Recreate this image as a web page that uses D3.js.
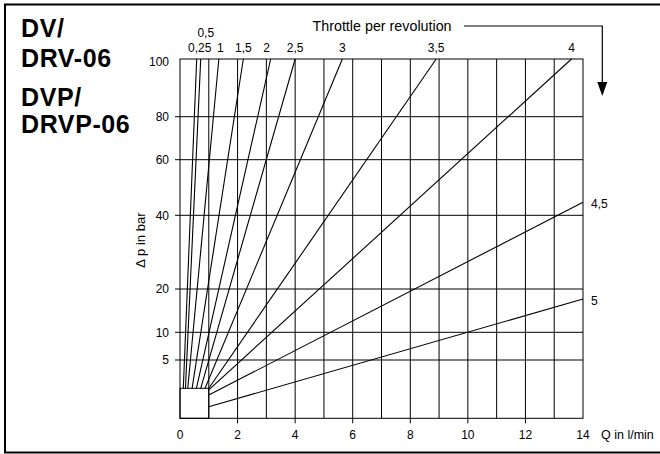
<!DOCTYPE html>
<html><head><meta charset="utf-8">
<script src="https://cdn.jsdelivr.net/npm/d3@7"></script>
<style>html,body{margin:0;padding:0;background:#fff}svg{display:block}</style>
</head><body>
<script>
// ---- data ----
const throttleLabels = ["0,25","0,5","1","1,5","2","2,5","3","3,5","4","4,5","5"];
const startQ  = [0.115, 0.19, 0.27, 0.42, 0.57, 0.72, 0.87, 1.0, 1.0, 1.0, 1.0];
const startDp = [2, 2, 2, 2, 2, 2, 2, 2, 1.9, 1.55, 0.77];
const endQ    = [0.58, 0.72, 1.35, 2.2, 3.15, 4.0, 5.64, 8.9, 13.6, 14, 14];
const endDp   = [100, 100, 100, 100, 100, 100, 100, 100, 100, 44.7, 17.7];
const yTickValues = [5, 10, 20, 40, 60, 80, 100];
const xTickValues = [0, 2, 4, 6, 8, 10, 12, 14];
const boxQ = 1, boxDp = 2;

const W = 660, H = 454;
const svg = d3.select("body").append("svg").attr("width", W).attr("height", H);
const FONT = "'Liberation Sans', Arial, Helvetica, sans-serif";

const x = d3.scaleLinear().domain([0, 14]).range([180, 583]);
const y = d3.scaleLinear()
  .domain([0, 2, 5, 10, 20, 40, 60, 80, 100])
  .range([418.3, 388.3, 360, 332.3, 289, 215.3, 159.7, 116.7, 59]);

// outer frame
svg.append("rect").attr("x", 5).attr("y", 4.5).attr("width", 657).attr("height", 448)
  .attr("fill", "none").attr("stroke", "#000").attr("stroke-width", 2);

// title
const title = svg.append("g").attr("font-family", FONT).attr("font-weight", "bold")
  .attr("font-size", 25).attr("fill", "#000").attr("letter-spacing", 0.6);
[["DV/", 37.3], ["DRV-06", 66.7], ["DVP/", 106], ["DRVP-06", 133.3]].forEach(([t, yy]) =>
  title.append("text").attr("x", 21).attr("y", yy).text(t));

// grid
const g = svg.append("g").attr("stroke", "#000").attr("stroke-width", 1).attr("fill", "none");
d3.range(1, 14).forEach(q => g.append("line")
  .attr("x1", x(q)).attr("x2", x(q)).attr("y1", y(0)).attr("y2", y(100)));
yTickValues.filter(v => v < 100).forEach(v => g.append("line")
  .attr("x1", x(0) - 5).attr("x2", x(14)).attr("y1", y(v)).attr("y2", y(v)));
g.append("rect").attr("x", x(0)).attr("y", y(100)).attr("width", x(14) - x(0)).attr("height", y(0) - y(100));
// small box
g.append("rect").attr("x", x(0)).attr("y", y(boxDp)).attr("width", x(boxQ) - x(0)).attr("height", y(0) - y(boxDp));

// x axis ticks & labels
xTickValues.forEach(v => {
  if (v > 0 && v < 14) g.append("line").attr("x1", x(v)).attr("x2", x(v)).attr("y1", y(0)).attr("y2", y(0) + 5);
});
const lab = svg.append("g").attr("font-family", FONT).attr("font-size", 12).attr("fill", "#000");
xTickValues.forEach(v => lab.append("text").attr("x", x(v)).attr("y", 438.5)
  .attr("text-anchor", "middle").text(v));
lab.append("text").attr("x", 601).attr("y", 438.5).attr("font-size", 12.5).text("Q in l/min");

// y labels
yTickValues.forEach(v => lab.append("text").attr("x", 169).attr("y", y(v) + (v === 100 ? 3 : 0))
  .attr("dy", "0.35em").attr("text-anchor", "end").text(v));
lab.append("text").attr("transform", "translate(145,240) rotate(-90)")
  .attr("text-anchor", "middle").attr("font-size", 13).text("∆ p in bar");

// throttle lines
const lines = svg.append("g").attr("stroke", "#000").attr("stroke-width", 1.1);
throttleLabels.forEach((t, i) => lines.append("line")
  .attr("x1", x(startQ[i])).attr("y1", y(startDp[i]))
  .attr("x2", x(endQ[i])).attr("y2", y(endDp[i])));

// line labels
const labelDx = {"0,25": 3, "0,5": 5, "1": 1.5, "2": -4};
throttleLabels.forEach((t, i) => {
  if (endDp[i] >= 100) {
    const row2 = t !== "0,5";
    lab.append("text").attr("x", x(endQ[i]) + (labelDx[t] || 0))
      .attr("y", row2 ? 52.3 : 36.7).attr("text-anchor", "middle").text(t);
  } else {
    lab.append("text").attr("x", x(14) + 8).attr("y", y(endDp[i]) + 2)
      .attr("dy", "0.35em").text(t);
  }
});

// "Throttle per revolution" with arrow
svg.append("text").attr("x", 312.5).attr("y", 31).attr("font-family", FONT)
  .attr("font-size", 14.3).attr("fill", "#000").text("Throttle per revolution");
svg.append("path").attr("d", "M464,26 H602.3 V84").attr("fill", "none")
  .attr("stroke", "#000").attr("stroke-width", 1.2);
svg.append("path").attr("d", "M597.3,82 L607.3,82 L602.3,96 Z").attr("fill", "#000");
</script>
</body></html>
